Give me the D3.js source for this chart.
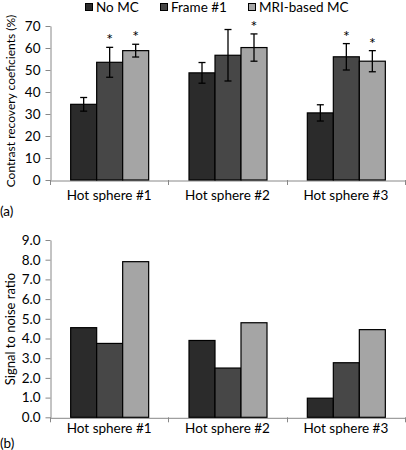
<!DOCTYPE html>
<html><head><meta charset="utf-8">
<script src="https://cdn.jsdelivr.net/npm/d3@7"></script>
<style>body{margin:0;background:#fff}svg{display:block}text{font-family:Lato,"Open Sans",sans-serif;fill:#000}</style>
</head><body>
<svg id="c" width="406" height="450"></svg>
<script>
const categories = ["Hot sphere #1", "Hot sphere #2", "Hot sphere #3"];
const seriesNames = ["No MC", "Frame #1", "MRI-based MC"];
const seriesColors = ["#2b2b2b", "#474747", "#a5a5a5"];
// (a) contrast recovery coefficients (%)
const crcNoMC = [34.4, 48.7, 30.5];
const crcFrame1 = [53.5, 56.7, 56.0];
const crcMRI = [58.8, 60.2, 54.0];
const crcErrNoMC = [3.1, 4.7, 3.7];
const crcErrFrame1 = [6.8, 11.7, 6.0];
const crcErrMRI = [2.9, 6.2, 4.8];
const crcStar = [[false, true, true], [false, false, true], [false, true, true]];
const crcTicks = [0, 10, 20, 30, 40, 50, 60, 70];
// (b) signal to noise ratio
const snrNoMC = [4.55, 3.9, 0.97];
const snrFrame1 = [3.75, 2.5, 2.77];
const snrMRI = [7.9, 4.8, 4.45];
const snrTicks = [0, 1, 2, 3, 4, 5, 6, 7, 8, 9];

const svg = d3.select("#c");
const fs = 13.5;
const ff = 'Lato,"Open Sans",sans-serif';

function panel(opts) {
  const g = svg.append("g");
  const x0 = d3.scaleBand().domain(categories).range([50, 405]);
  const x1 = d3.scaleBand().domain(d3.range(3)).range([0, 78]);
  const y = d3.scaleLinear().domain(opts.domain).range(opts.yRange);
  const ya = g.append("g").attr("transform", "translate(50.5,0)")
    .call(d3.axisLeft(y).tickValues(opts.ticks).tickSize(5).tickSizeOuter(0).tickPadding(5).tickFormat(opts.fmt));
  ya.select(".domain").attr("stroke", "#888");
  ya.selectAll(".tick line").attr("stroke", "#888");
  ya.selectAll("text").style("font-size", fs + "px").style("font-family", ff).attr("fill", "#000");
  const xa = g.append("g").attr("transform", `translate(0,${y(0) + 0.5})`)
    .call(d3.axisBottom(x0).tickSize(0).tickPadding(opts.xPad));
  xa.select(".domain").attr("stroke", "#888");
  xa.selectAll("text").style("font-size", fs + "px").style("font-family", ff).attr("fill", "#000");
  const seps = [50, ...categories.map(c => x0(c) + x0.bandwidth())];
  g.selectAll(".sep").data(seps).join("line")
    .attr("x1", d => Math.round(d) + 0.5).attr("x2", d => Math.round(d) + 0.5)
    .attr("y1", y(0)).attr("y2", y(0) + 5).attr("stroke", "#888");
  const data = [];
  categories.forEach((c, i) => opts.series.forEach((s, j) => data.push({c, i, j, v: s[i], e: opts.err ? opts.err[j][i] : null})));
  const cx = d => x0(d.c) + (x0.bandwidth() - 78) / 2 + x1(d.j);
  g.selectAll(".bar").data(data).join("rect")
    .attr("x", d => cx(d) + 0.5).attr("y", d => y(d.v))
    .attr("width", x1.bandwidth()).attr("height", d => y(0) - y(d.v))
    .attr("fill", d => seriesColors[d.j]).attr("stroke", "#000").attr("stroke-width", 1.2);
  if (opts.err) {
    const eb = g.selectAll(".eb").data(data).join("g");
    const mx = d => cx(d) + x1.bandwidth() / 2 + 0.5;
    eb.append("line").attr("x1", mx).attr("x2", mx).attr("y1", d => y(d.v + d.e)).attr("y2", d => y(d.v - d.e)).attr("stroke", "#000").attr("stroke-width", 1.3);
    eb.append("line").attr("x1", d => mx(d) - 3.5).attr("x2", d => mx(d) + 3.5).attr("y1", d => y(d.v + d.e)).attr("y2", d => y(d.v + d.e)).attr("stroke", "#000").attr("stroke-width", 1.3);
    eb.append("line").attr("x1", d => mx(d) - 3.5).attr("x2", d => mx(d) + 3.5).attr("y1", d => y(d.v - d.e)).attr("y2", d => y(d.v - d.e)).attr("stroke", "#000").attr("stroke-width", 1.3);
    g.selectAll(".star").data(data.filter(d => crcStar[d.i][d.j])).join("text")
      .attr("x", mx).attr("y", d => y(d.v + d.e) - 2).attr("text-anchor", "middle")
      .style("font-size", "16px").text("*");
  }
  g.append("text").attr("transform", `translate(15,${opts.labelY}) rotate(-90)`)
    .attr("text-anchor", "middle").style("font-size", opts.labelFs + "px").text(opts.label);
  g.append("text").attr("x", 0).attr("y", opts.tagY).style("font-size", fs + "px").text(opts.tag);
}

panel({domain: [0, 70], yRange: [180, 26], ticks: crcTicks, fmt: d3.format("d"),
  series: [crcNoMC, crcFrame1, crcMRI], err: [crcErrNoMC, crcErrFrame1, crcErrMRI], xPad: 10,
  label: "Contrast recovery coeficients (%)", labelY: 101, labelFs: 12, tag: "(a)", tagY: 216});
panel({domain: [0, 9], yRange: [417.3, 240], ticks: snrTicks, fmt: d3.format(".1f"),
  series: [snrNoMC, snrFrame1, snrMRI], err: null, xPad: 6,
  label: "Signal to noise ratio", labelY: 329, labelFs: 13, tag: "(b)", tagY: 448});

const lx = [85, 160, 248];
const leg = svg.append("g");
seriesNames.forEach((n, i) => {
  leg.append("rect").attr("x", lx[i] + 0.5).attr("y", 3.5).attr("width", 7).attr("height", 7)
    .attr("fill", seriesColors[i]).attr("stroke", "#000").attr("stroke-width", 1);
  leg.append("text").attr("x", lx[i] + 11).attr("y", 12).style("font-size", fs + "px").text(n);
});
</script>
</body></html>
